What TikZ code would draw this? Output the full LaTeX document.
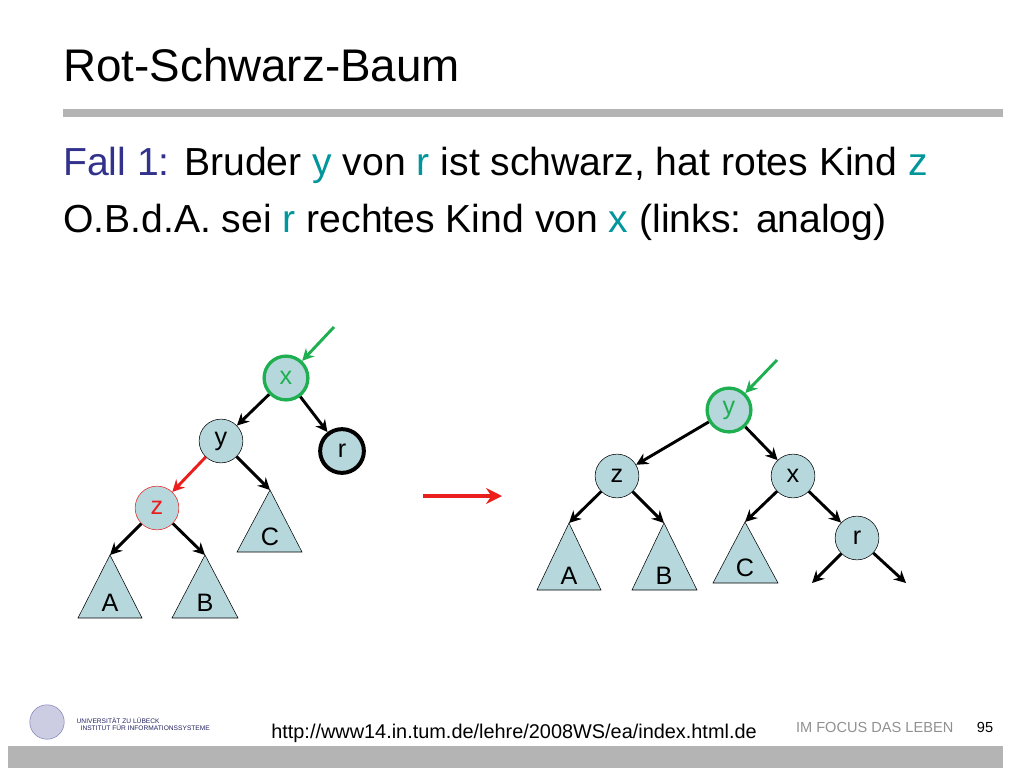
\documentclass[tikz,border=0pt]{standalone}
\usepackage{fontspec}
\setmainfont{Liberation Sans}
\usetikzlibrary{arrows.meta,calc}
\definecolor{knotenblau}{RGB}{182,216,220}
\definecolor{gruen}{RGB}{30,175,80}
\definecolor{rot}{RGB}{235,30,30}
\definecolor{tuerkis}{RGB}{0,150,155}
\definecolor{titelblau}{RGB}{50,50,140}
\definecolor{balken}{RGB}{180,180,180}
\tikzset{
  knoten/.style={circle,draw=black,fill=knotenblau,minimum size=33pt,inner sep=0pt,font=\fontsize{19}{19}\selectfont},
  kante/.style={-{Stealth[length=9pt,width=9pt]},line width=2.2pt},
  baum/.style={draw=black,fill=knotenblau},
  blatt/.style={font=\fontsize{19}{19}\selectfont},
  zeiger/.style={-{Stealth[length=9pt,width=9pt]},line width=2.2pt,gruen}
}
\begin{document}
\begin{tikzpicture}[x=0.0265cm,y=-0.0265cm]
        \useasboundingbox (0,0) rectangle (1024,768);
        % Titel
        \node[anchor=west,inner sep=0pt,font=\fontsize{34.5}{34.5}\selectfont] (titel) at (63,65) {Rot-Schwarz-Baum};
        \fill[balken] (63,109) rectangle (1003,117);
        \node[anchor=west,inner sep=0pt,font=\fontsize{29.5}{29.5}\selectfont] (zeile1) at (63,165) {\textcolor{titelblau}{Fall 1:} Bruder \textcolor{tuerkis}{y} von \textcolor{tuerkis}{r} ist schwarz, hat rotes Kind \textcolor{tuerkis}{z}};
        \node[anchor=west,inner sep=0pt,font=\fontsize{29.5}{29.5}\selectfont] (zeile2) at (63,222) {O.B.d.A. sei \textcolor{tuerkis}{r} rechtes Kind von \textcolor{tuerkis}{x} (links: analog)};

        % linker Baum
        \node[knoten,draw=gruen,line width=2.5pt,text=gruen] (x) at (286,378) {x};
        \node[knoten] (y) at (221,441) {y};
        \node[knoten,line width=3pt] (r) at (342,451) {r};
        \node[knoten,draw=rot,text=rot] (z) at (157,508) {z};
        \draw[baum] (270,490) -- (302,552) -- (237,552) -- cycle;
        \draw[baum] (110,555) -- (142,618) -- (78,618) -- cycle;
        \draw[baum] (205,555) -- (238,618) -- (172,618) -- cycle;
        \coordinate (tC) at (270,490);
        \coordinate (tA) at (110,555);
        \coordinate (tB) at (205,555);
        \node[blatt] (lC) at (270,537) {C};
        \node[blatt] (lA) at (110,603) {A};
        \node[blatt] (lB) at (205,603) {B};
        \draw[kante] (x) -- (y);
        \draw[kante] (x) -- (r);
        \draw[kante,rot] (y) -- (z);
        \draw[kante] (y) -- (tC);
        \draw[kante] (z) -- (tA);
        \draw[kante] (z) -- (tB);
        \coordinate (px) at (334,327);
        \draw[zeiger] (px) -- (x);

        % Pfeil
        \coordinate (p1) at (423,496);
        \coordinate (p2) at (502,496);
        \draw[-{Stealth[length=12pt,width=12pt]},line width=3pt,rot] (p1) -- (p2);

        % rechter Baum
        \node[knoten,draw=gruen,line width=2.5pt,text=gruen] (y2) at (729,410) {y};
        \node[knoten] (z2) at (617,476) {z};
        \node[knoten] (x2) at (793,476) {x};
        \node[knoten] (r2) at (857,538) {r};
        \draw[baum] (569,523) -- (601,590) -- (537,590) -- cycle;
        \draw[baum] (664,523) -- (697,590) -- (632,590) -- cycle;
        \draw[baum] (745,522) -- (778,583) -- (713,583) -- cycle;
        \coordinate (tA2) at (569,523);
        \coordinate (tB2) at (664,523);
        \coordinate (tC2) at (745,522);
        \node[blatt] (lA2) at (569,576) {A};
        \node[blatt] (lB2) at (664,576) {B};
        \node[blatt] (lC2) at (745,568) {C};
        \coordinate (rl) at (812,583);
        \coordinate (rr) at (906,583);
        \draw[kante] (y2) -- (z2);
        \draw[kante] (y2) -- (x2);
        \draw[kante] (z2) -- (tA2);
        \draw[kante] (z2) -- (tB2);
        \draw[kante] (x2) -- (tC2);
        \draw[kante] (x2) -- (r2);
        \draw[kante] (r2) -- (rl);
        \draw[kante] (r2) -- (rr);
        \coordinate (py) at (777,360);
        \draw[zeiger] (py) -- (y2);

        % Fusszeile
        \node[circle,draw=titelblau!60,fill=titelblau!25,minimum size=26pt] (siegel) at (47,722) {};
        \node[anchor=west,font=\fontsize{5}{6}\selectfont,text=titelblau!70!black,align=left] (uni) at (72,724) {UNIVERSITÄT ZU LÜBECK\\[-1pt]\hspace*{3pt}INSTITUT FÜR INFORMATIONSSYSTEME};
        \node[font=\fontsize{15}{15}\selectfont] (url) at (514,733) {http://www14.in.tum.de/lehre/2008WS/ea/index.html.de};
        \node[anchor=east,font=\fontsize{11}{11}\selectfont,text=balken!80!black] (motto) at (958,727) {IM FOCUS DAS LEBEN};
        \node[font=\fontsize{11}{11}\selectfont] (seite) at (985,727) {95};
        \fill[balken] (8,746) rectangle (1003,768);
\end{tikzpicture}
\end{document}
